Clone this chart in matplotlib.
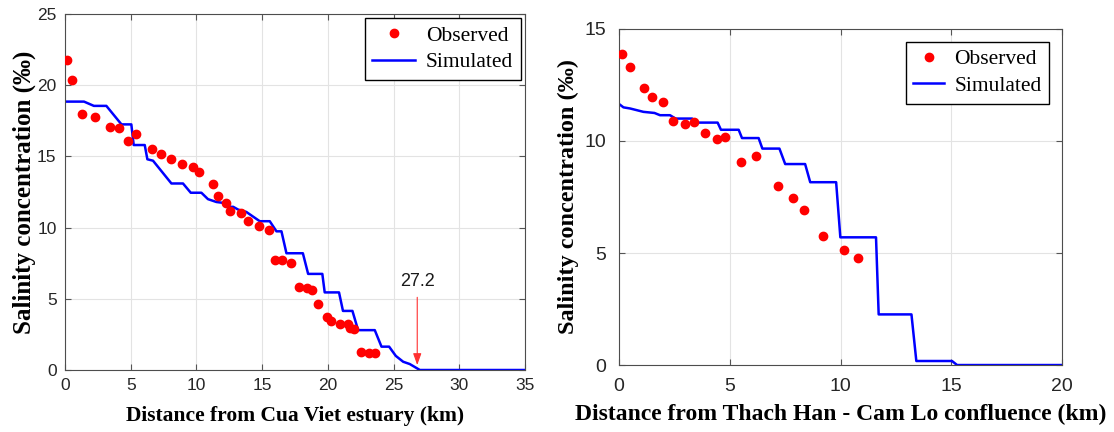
import numpy as np
import matplotlib
matplotlib.use("Agg")
import matplotlib.pyplot as plt

# Cua Viet (left panel)
obs_x_cv = [0.18, 0.53, 1.32, 2.31, 3.43, 4.09, 4.8, 5.43, 6.62, 7.28, 8.07, 8.9, 9.74, 10.2,
            11.3, 11.67, 12.23, 12.53, 13.37, 13.93, 14.74, 15.56, 16.0, 16.55, 17.2, 17.8,
            18.4, 18.8, 19.28, 19.94, 20.25, 20.96, 21.5, 21.7, 22.0, 22.5, 23.1, 23.6]
obs_y_cv = [21.8, 20.35, 17.95, 17.75, 17.05, 17.0, 16.05, 16.55, 15.55, 15.15, 14.85, 14.45,
            14.25, 13.9, 13.05, 12.25, 11.7, 11.2, 11.0, 10.45, 10.1, 9.85, 7.75, 7.7, 7.55,
            5.85, 5.75, 5.65, 4.65, 3.7, 3.45, 3.25, 3.25, 2.95, 2.85, 1.25, 1.2, 1.2]
sim_x_cv = [0, 1.45, 2.2, 3.15, 4.3, 5.05, 5.23, 6.07, 6.27, 6.7, 8.1, 8.98, 9.57, 10.38, 10.88,
            11.52, 12.02, 12.28, 12.8, 13.17, 13.8, 14.82, 15.58, 16.09, 16.47, 16.85, 18.1,
            18.5, 19.58, 19.76, 20.85, 21.15, 21.87, 22.3, 23.57, 24.08, 24.66, 25.17, 25.73,
            26.23, 27.0, 35]
sim_y_cv = [18.85, 18.85, 18.55, 18.55, 17.25, 17.25, 15.8, 15.8, 14.8, 14.7, 13.1, 13.1, 12.45,
            12.45, 12.0, 11.8, 11.74, 11.46, 11.46, 11.27, 11.1, 10.45, 10.45, 9.74, 9.74, 8.2,
            8.2, 6.75, 6.75, 5.45, 5.45, 4.15, 4.15, 2.8, 2.8, 1.64, 1.64, 0.99, 0.58, 0.42,
            0.0, 0.0]
intrusion_x = 26.8
intrusion_label = "27.2"

# Thach Han - Cam Lo (right panel)
obs_x_th = [0.15, 0.51, 1.12, 1.5, 1.99, 2.44, 2.97, 3.38, 3.89, 4.44, 4.8, 5.51, 6.2, 7.18,
            7.85, 8.33, 9.2, 10.14, 10.77]
obs_y_th = [13.88, 13.32, 12.36, 11.96, 11.72, 10.9, 10.75, 10.86, 10.37, 10.07, 10.17, 9.08,
            9.34, 8.01, 7.45, 6.93, 5.76, 5.14, 4.77]
sim_x_th = [0, 0.2, 0.5, 1.1, 1.6, 1.85, 2.3, 2.55, 3.3, 3.45, 4.45, 4.6, 5.4, 5.55, 6.3, 6.47,
            7.24, 7.5, 8.4, 8.63, 9.8, 9.99, 11.6, 11.72, 13.2, 13.42, 15.03, 15.26, 20]
sim_y_th = [11.65, 11.5, 11.45, 11.3, 11.25, 11.15, 11.15, 11.0, 11.0, 10.82, 10.82, 10.5, 10.5,
            10.13, 10.13, 9.66, 9.66, 8.97, 8.97, 8.16, 8.16, 5.7, 5.7, 2.26, 2.26, 0.18, 0.18,
            0.0, 0.0]

serif_bold = dict(family="Liberation Serif", weight="bold")

fig = plt.figure(figsize=(11.14, 4.32), dpi=100)
ax1 = fig.add_axes([0.0583, 0.1435, 0.413, 0.824])
ax2 = fig.add_axes([0.5557, 0.155, 0.3977, 0.778])


def style_axes(ax, xmax, ymax, xstep, ystep, tick_size, pad):
    ax.set_xlim(0, xmax)
    ax.set_ylim(0, ymax)
    ax.set_xticks(np.arange(0, xmax + 0.1, xstep))
    ax.set_yticks(np.arange(0, ymax + 0.1, ystep))
    ax.grid(True, color="#e3e3e3", linewidth=0.8)
    ax.set_axisbelow(True)
    ax.tick_params(direction="in", top=True, right=True, length=4, color="#555555",
                   labelsize=tick_size, labelcolor="#262626", pad=pad)
    for lab in ax.get_xticklabels() + ax.get_yticklabels():
        lab.set_family("Liberation Sans")
    for s in ax.spines.values():
        s.set_color("#4d4d4d")
        s.set_linewidth(0.8)


ax1.plot(sim_x_cv, sim_y_cv, color="#0000ff", lw=1.8, label="Simulated", zorder=2)
ax1.plot(obs_x_cv, obs_y_cv, "o", color="#ff0000", ms=6, label="Observed", zorder=3)
style_axes(ax1, 35, 25, 5, 5, 12.5, 6)
ax1.annotate("", xy=(intrusion_x, 0.15), xytext=(intrusion_x, 5.3),
             arrowprops=dict(arrowstyle="-|>,head_length=0.7,head_width=0.25",
                             color="#ff3030", lw=0.8))
ax1.text(intrusion_x, 5.6, intrusion_label, ha="center", va="bottom", fontsize=13,
         family="Liberation Sans", color="#1a1a1a")
ax1.set_xlabel("Distance from Cua Viet estuary (km)", fontsize=15.5, labelpad=9, **serif_bold)
ax1.set_ylabel("Salinity concentration (‰)", fontsize=18, labelpad=1, **serif_bold)
h, l = ax1.get_legend_handles_labels()
ax1.legend([h[1], h[0]], [l[1], l[0]], loc="upper right", prop=dict(family="Liberation Serif", size=15.5),
           frameon=True, fancybox=False, edgecolor="black", framealpha=1, handlelength=2.0,
           borderaxespad=0.2, labelspacing=0.3, borderpad=0.35, handletextpad=0.5)

ax2.plot(sim_x_th, sim_y_th, color="#0000ff", lw=1.8, label="Simulated", zorder=2)
ax2.plot(obs_x_th, obs_y_th, "o", color="#ff0000", ms=6, label="Observed", zorder=3)
style_axes(ax2, 20, 15, 5, 5, 14, 9)
ax2.set_xlabel("Distance from Thach Han - Cam Lo confluence (km)", fontsize=17, labelpad=7,
               **serif_bold)
ax2.set_ylabel("Salinity concentration (‰)", fontsize=17.5, labelpad=4, **serif_bold)
h, l = ax2.get_legend_handles_labels()
ax2.legend([h[1], h[0]], [l[1], l[0]], loc="upper right", prop=dict(family="Liberation Serif", size=15.5),
           frameon=True, fancybox=False, edgecolor="black", framealpha=1, handlelength=1.4,
           borderaxespad=0.6, labelspacing=0.3, borderpad=0.35, handletextpad=0.5)

fig.savefig("out.png", dpi=100)
